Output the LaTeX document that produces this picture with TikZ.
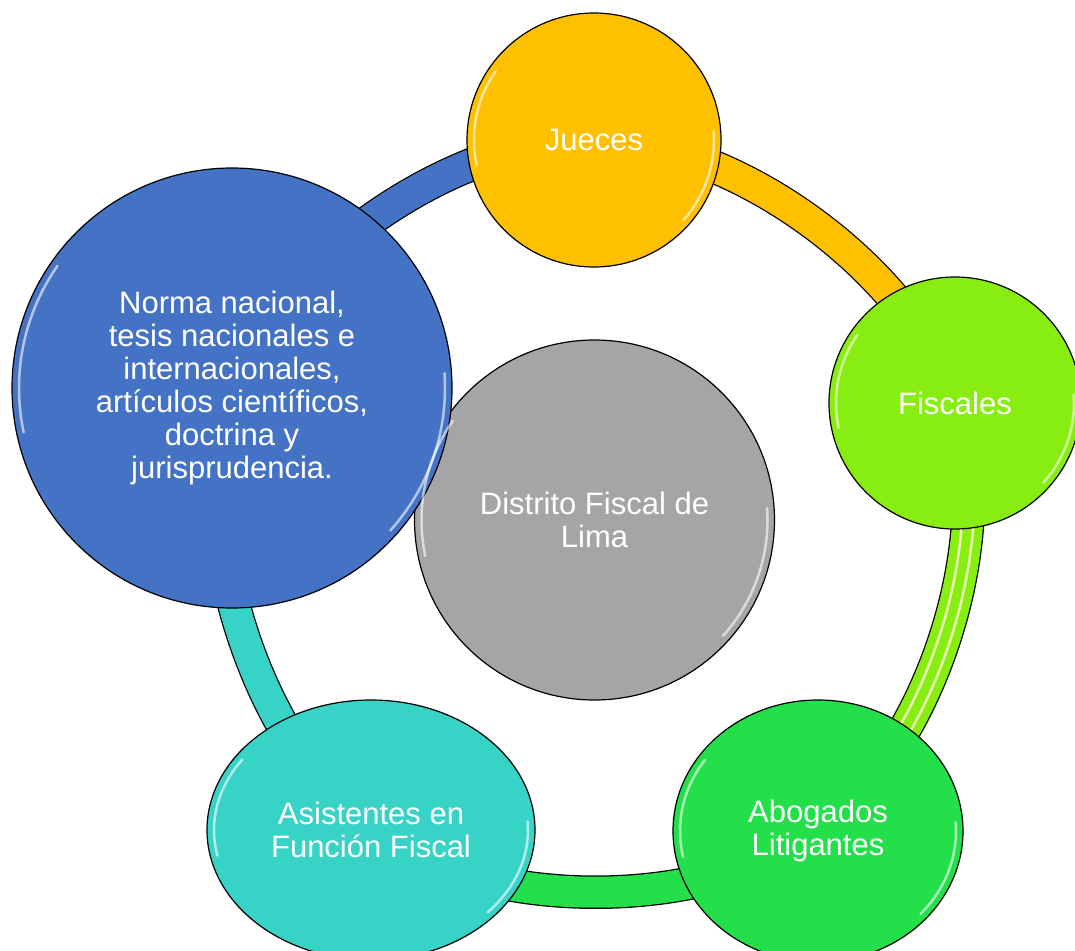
\documentclass[tikz,border=0pt]{standalone}
\usepackage{fontspec}
\setmainfont{Liberation Sans}
\usepackage{tikz}
\usetikzlibrary{shapes,backgrounds,calc}
\definecolor{chub}{HTML}{A5A5A5}
\definecolor{cjueces}{HTML}{FFC000}
\definecolor{cfiscales}{HTML}{88EE11}
\definecolor{cabogados}{HTML}{22DF4A}
\definecolor{casist}{HTML}{36D3C6}
\definecolor{cnorma}{HTML}{4472C4}
\definecolor{cstripe}{HTML}{EEFFBB}
\tikzstyle{bubble} = [circle, draw=black, line width=1.2bp, text=white, inner sep=0pt, align=center, font=\fontsize{31bp}{33bp}\selectfont]
\tikzstyle{oval} = [bubble, ellipse]
\tikzstyle{ring} = [line width=31bp, preaction={draw=black, line width=33.5bp}]
\tikzstyle{gloss} = [white, line width=2.5bp, opacity=.6, line cap=round]
\newcommand{\shine}[3]{%
	\begin{scope}[shift={(#1.center)}]
		\draw[gloss] (145:#2 and #3) arc[start angle=145, end angle=192, x radius=#2, y radius=#3];
		\draw[gloss] (-42:#2 and #3) arc[start angle=-42, end angle=4, x radius=#2, y radius=#3];
	\end{scope}}

\begin{document}
\begin{tikzpicture}[x=1bp, y=1bp]
		\useasboundingbox (0,0) rectangle (1075,-951);
		\clip (0,0) rectangle (1075,-951);
		\node[bubble, fill=chub, minimum size=360bp] (hub) at (594.5,-520) {Distrito Fiscal de\\Lima};
		\node[bubble, fill=cjueces, minimum size=254bp] (jueces) at (594,-140) {Jueces};
		\node[bubble, fill=cfiscales, minimum size=252bp] (fiscales) at (955,-403) {Fiscales};
		\node[oval, fill=cabogados, minimum width=290bp, minimum height=262bp] (abogados) at (818,-831) {Abogados\\Litigantes};
		\node[oval, fill=casist, minimum width=328bp, minimum height=260bp] (asistentes) at (371,-830) {Asistentes en\\Función Fiscal};
		\node[bubble, fill=cnorma, minimum size=440bp] (norma) at (232,-388) {Norma nacional,\\tesis nacionales e\\internacionales,\\artículos científicos,\\doctrina y\\jurisprudencia.};
		\shine{hub}{173}{173}
		\shine{jueces}{120}{120}
		\shine{fiscales}{119}{119}
		\shine{abogados}{138}{124}
		\shine{asistentes}{157}{123}
		\shine{norma}{213}{213}
		\begin{scope}[on background layer]
			\fill[white] (0,0) rectangle (1075,-951);
			\draw[ring, cjueces] (jueces.center) to [bend left=36, looseness=.8] (fiscales.center);
			\draw[ring, cfiscales, postaction={draw=cstripe, line width=2.5bp, double=cfiscales, double distance=9bp}]
				(fiscales.center) to [bend left=36, looseness=.8] (abogados.center);
			\draw[ring, cabogados] (abogados.center) to [bend left=36, looseness=.8] (asistentes.center);
			\draw[ring, casist] (asistentes.center) to [bend left=36, looseness=.8] (norma.center);
			\draw[ring, cnorma] (norma.center) to [bend left=36, looseness=.8] (jueces.center);
		\end{scope}
	\end{tikzpicture}
\end{document}
